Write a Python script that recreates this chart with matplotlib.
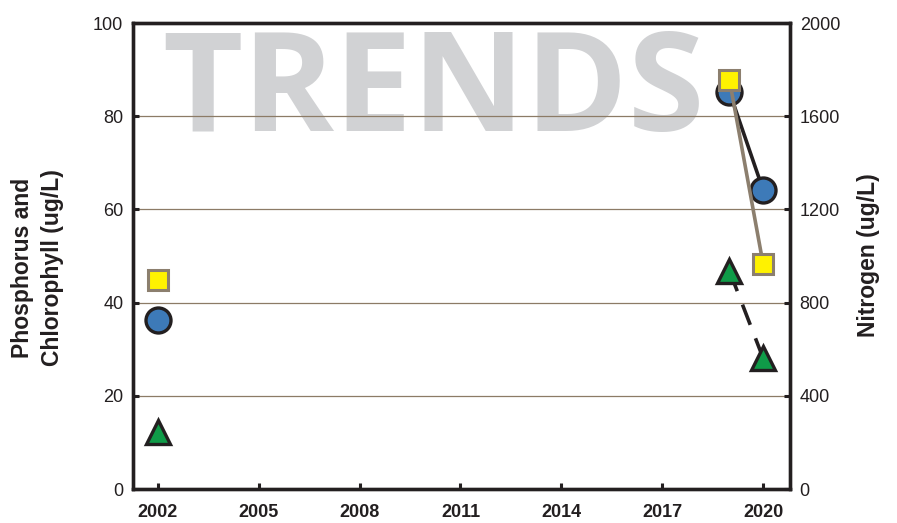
import numpy as np
import matplotlib.pyplot as plt

plt.rcParams['font.family'] = ['Liberation Sans', 'DejaVu Sans']

# data
years = [2002, 2019, 2020]
phosphorus = [36.2, 85.2, 64.2]        # blue circles, left axis
chlorophyll = [12.2, 46.8, 28.1]       # green triangles, left axis
nitrogen = [896, 1756, 966]            # yellow squares, right axis
xticks = [2002, 2005, 2008, 2011, 2014, 2017, 2020]

fig = plt.figure(figsize=(8.97, 5.23), dpi=100)
ax = fig.add_axes([0.1483, 0.065, 0.7324, 0.891])
ax2 = ax.twinx()

ax.set_xlim(2001.26, 2020.8)
ax.set_ylim(0, 100)
ax2.set_ylim(0, 2000)

grid_c = '#8c7b66'
for g in [20, 40, 60, 80]:
    ax.axhline(g, color=grid_c, lw=0.9, zorder=1)

# watermark
ax.text(0.458, 0.768, 'TRENDS', transform=ax.transAxes, fontsize=100,
        fontweight='bold', family='Open Sans', color='#d1d2d4',
        ha='center', va='baseline', zorder=0)

ax.set_zorder(2)
ax2.set_zorder(3)
ax.patch.set_visible(False)

# only connect the consecutive years
ax.plot(years[1:], phosphorus[1:], color='#231f20', lw=2.6, zorder=3)
ax.plot(years, phosphorus, ls='none', marker='o', ms=18, mfc='#3d7ab8',
        mec='#231f20', mew=2.4, zorder=4)
ax.plot(years[1:], chlorophyll[1:], color='#231f20', lw=2.6,
        dashes=(6, 4), zorder=3)
ax.plot(years, chlorophyll, ls='none', marker='^', ms=17, mfc='#0f9b48',
        mec='#231f20', mew=2.4, zorder=4)
ax2.plot(years[1:], nitrogen[1:], color='#8c7f6e', lw=2.6, zorder=3)
ax2.plot(years, nitrogen, ls='none', marker='s', ms=15, mfc='#fff200',
         mec='#8c7f6e', mew=2.2, zorder=4)

ax.set_xticks(xticks)
ax.set_xticklabels([str(x) for x in xticks], fontweight='bold')
ax.set_yticks(np.arange(0, 101, 20))
ax2.set_yticks(np.arange(0, 2001, 400))

ax.tick_params(axis='both', direction='in', length=4, width=2.2,
               labelsize=13, color='#231f20', labelcolor='#231f20', pad=7)
ax.tick_params(axis='x', pad=11)
ax2.tick_params(axis='y', direction='in', length=4, width=2.2,
                labelsize=13, color='#231f20', labelcolor='#231f20', pad=7)

for a in (ax, ax2):
    for s in a.spines.values():
        s.set_linewidth(2.4)
        s.set_color('#231f20')

fig.text(0.025, 0.488, 'Phosphorus and', rotation=90, fontsize=16.5,
         fontweight='bold', ha='center', va='center', color='#231f20')
fig.text(0.058, 0.488, 'Chlorophyll (ug/L)', rotation=90, fontsize=16.5,
         fontweight='bold', ha='center', va='center', color='#231f20')
fig.text(0.968, 0.512, 'Nitrogen (ug/L)', rotation=90, fontsize=16.5,
         fontweight='bold', ha='center', va='center', color='#231f20')

fig.savefig('out.png', dpi=100)
